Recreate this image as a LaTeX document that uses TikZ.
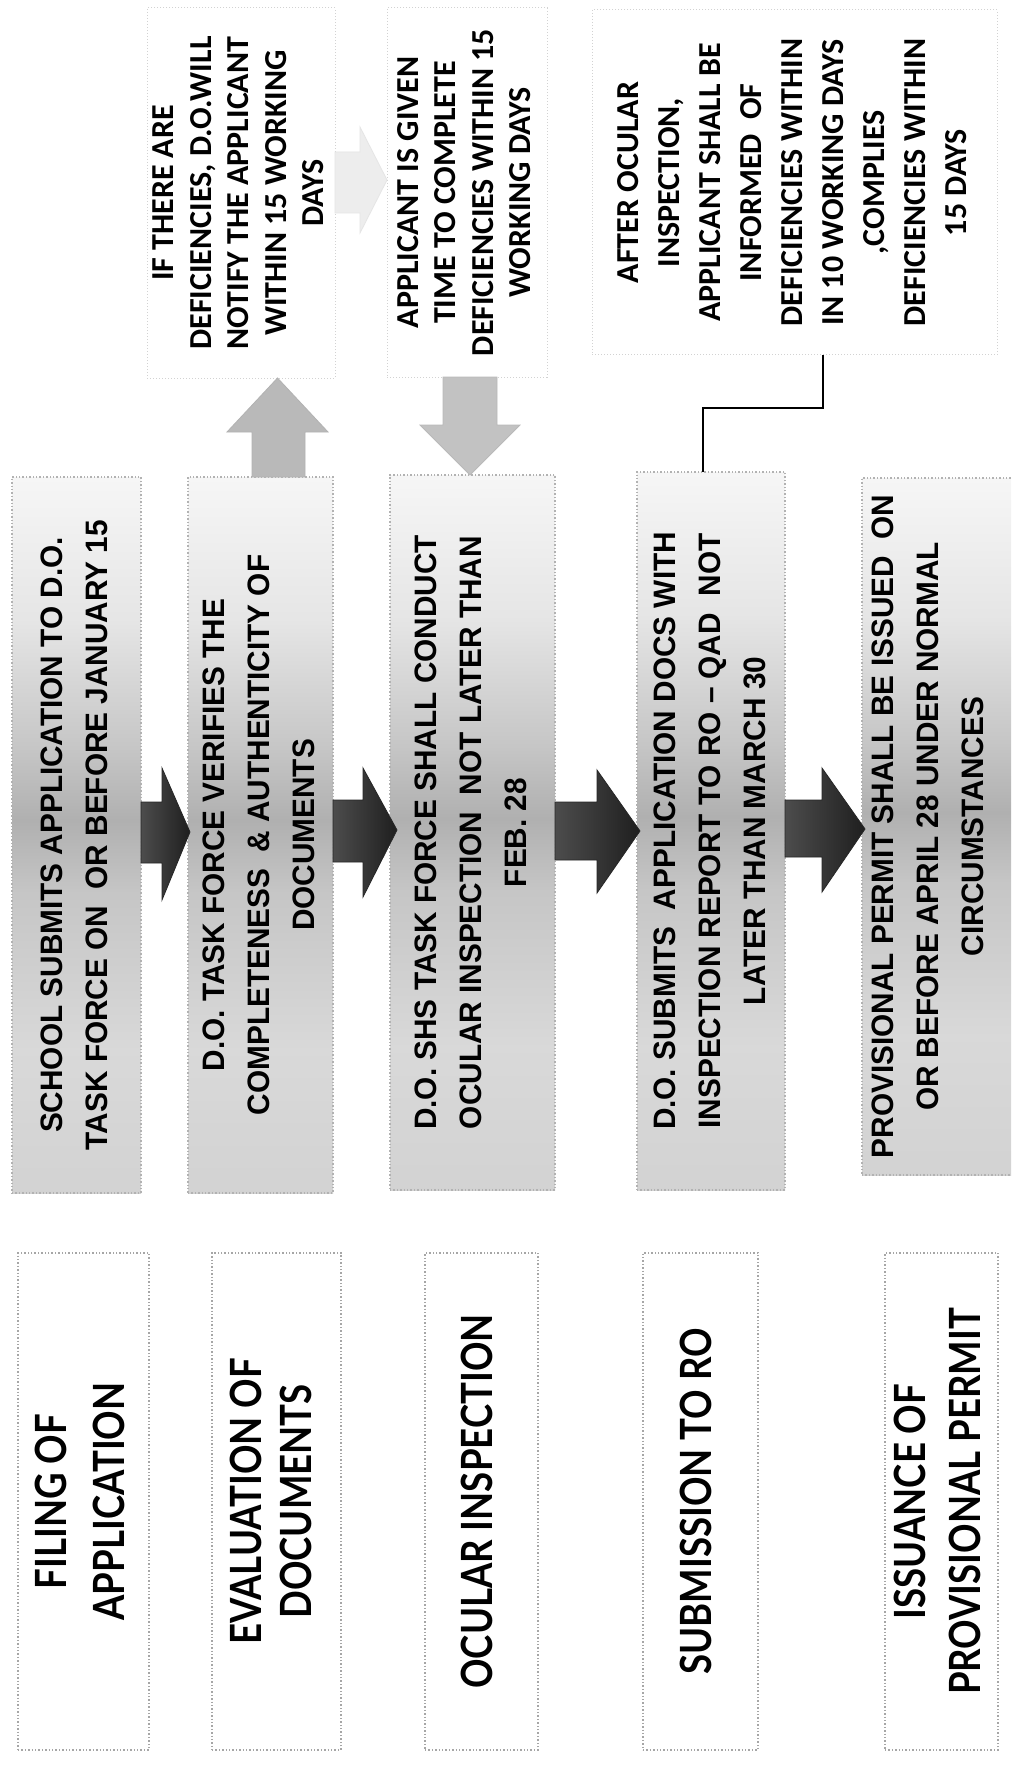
\documentclass[tikz,border=0pt]{standalone}
\usepackage{fontspec}
\usepackage{graphicx}
\setmainfont{Carlito}
\newfontfamily\midfont[FakeStretch=0.96]{Liberation Sans}
\newfontfamily\leftfont[FakeStretch=0.85]{Lato}
\usetikzlibrary{calc}
\newcommand\rtext[1]{\rotatebox{90}{\begin{tabular}{@{}c@{}}#1\end{tabular}}}
\newcommand\lfs[1]{\leftfont\bfseries\fontsize{21.5}{#1}\selectfont}
\pgfdeclareverticalshading{mshade}{100bp}{%
  color(0bp)=(gray!35); color(25bp)=(gray!35); color(35bp)=(gray!30);
  color(46bp)=(gray!45); color(51bp)=(gray!62); color(56bp)=(gray!45);
  color(65bp)=(gray!20); color(75bp)=(gray!7); color(100bp)=(gray!7)}
\tikzset{
  sz/.style 2 args={minimum width=#1*0.5pt, minimum height=#2*0.5pt, inner sep=0pt, outer sep=0pt},
  mbox/.style={draw=gray!60, densely dotted, line width=0.7pt, shading=mshade,
    font=\midfont\bfseries\fontsize{15.5}{22.5}\selectfont},
  mtext/.style={inner sep=0pt, font=\midfont\bfseries\fontsize{15.5}{22.5}\selectfont},
  lbox/.style={draw=gray!70, densely dotted, line width=0.7pt, fill=white},
  tbox/.style={draw=gray!35, densely dotted, line width=0.5pt, fill=white,
    font=\bfseries\fontsize{16}{18.75}\selectfont},
  tboxb/.style={tbox, font=\bfseries\fontsize{16}{20.5}\selectfont},
  darkarrow/.style={left color=black!70, right color=black!88, draw=black!85, line width=0.4pt},
  uparrow/.style={fill=gray!55, draw=gray!60, line width=0.4pt},
  downarrow/.style={fill=gray!48, draw=gray!55, line width=0.4pt},
  lightarrow/.style={fill=gray!14, draw=gray!20, line width=0.4pt},
  conn/.style={draw=black, line width=1pt}
}
\begin{document}
\begin{tikzpicture}[x=0.5pt,y=-0.5pt]
\useasboundingbox (0,0) rectangle (1011,1765);
\fill[white] (0,0) rectangle (1011,1765);
\clip (0,0) rectangle (1011,1765);

% ---------- left column ----------
\node[lbox, sz={131}{497}] (l1) at (83.5,1501.5) {\lfs{29}\rtext{FILING OF\\ APPLICATION}};
\node[lbox, sz={129}{497}] (l2) at (276.5,1501.5) {\lfs{25}\rtext{EVALUATION OF\\ DOCUMENTS}};
\node[lbox, sz={113}{497}] (l3) at (481.5,1501.5) {\lfs{27}\rtext{OCULAR INSPECTION}};
\node[lbox, sz={115}{497}] (l4) at (700.5,1501.5) {\lfs{27}\rtext{SUBMISSION TO RO}};
\node[lbox, sz={113}{497}] (l5) at (941.5,1501.5) {\lfs{27.5}\rtext{ISSUANCE OF\\ PROVISIONAL PERMIT}};

% ---------- middle column ----------
\node[mbox, sz={129}{716}] (m1) at (76.5,835) {\rtext{SCHOOL SUBMITS APPLICATION TO D.O.\\ TASK FORCE ON \ OR BEFORE JANUARY 15}};
\node[mbox, sz={145}{716}] (m2) at (260.5,835) {\rtext{D.O. TASK FORCE VERIFIES THE\\ COMPLETENESS \ \& AUTHENTICITY OF\\ DOCUMENTS}};
\node[mbox, sz={165}{715}] (m3) at (472.5,832.5) {\rtext{D.O. SHS TASK FORCE SHALL CONDUCT\\ OCULAR INSPECTION \ NOT LATER THAN\\ FEB. 28}};
\node[mbox, sz={148}{718}] (m4) at (711,831) {\rtext{D.O. SUBMITS \ APPLICATION DOCS WITH\\ INSPECTION REPORT TO RO – QAD \ NOT\\ LATER THAN MARCH 30}};
\node[mbox, sz={156}{697}] (m5) at (940,826.5) {};
\node[mtext] (m5t) at (929,826.5) {\rtext{PROVISIONAL PERMIT SHALL BE ISSUED \ ON\\ OR BEFORE APRIL 28 UNDER NORMAL\\ CIRCUMSTANCES}};

% ---------- top row ----------
\node[tbox, sz={188}{370}] (t1) at (241,193) {\rtext{IF THERE ARE\\ DEFICIENCIES, D.O.WILL\\ NOTIFY THE APPLICANT\\ WITHIN 15 WORKING\\ DAYS}};
\node[tbox, sz={160}{369}] (t2) at (467,192.5) {\rtext{APPLICANT IS GIVEN\\ TIME TO COMPLETE\\ DEFICIENCIES WITHIN 15\\ WORKING DAYS}};
\node[tboxb, sz={405}{345}] (t3) at (794.5,182.5) {\rtext{AFTER OCULAR\\ INSPECTION,\\ APPLICANT SHALL BE\\ INFORMED \ OF\\ DEFICIENCIES WITHIN\\ IN 10 WORKING DAYS\\ ,COMPLIES\\ DEFICIENCIES WITHIN\\ 15 DAYS}};

% ---------- block arrows ----------
% m1 -> m2
\path[darkarrow] (m1.east |- 0,802) -- (162,802) -- (162,768) -- (190,832) -- (162,900) -- (162,863) -- (m1.east |- 0,863) -- cycle;
% m2 -> m3
\path[darkarrow] (m2.east |- 0,800) -- (363,800) -- (363,768) -- (397,830) -- (363,897) -- (363,862) -- (m2.east |- 0,862) -- cycle;
% m3 -> m4
\path[darkarrow] (m3.east |- 0,802) -- (597,802) -- (597,770) -- (640,831) -- (597,893) -- (597,860) -- (m3.east |- 0,860) -- cycle;
% m4 -> m5
\path[darkarrow] (m4.east |- 0,800) -- (822,800) -- (822,768) -- (865,829) -- (822,892) -- (822,857) -- (m4.east |- 0,857) -- cycle;

% m2 -> t1 (up)
\path[uparrow] (252,0 |- m2.north) -- (252,432) -- (227,432) -- (277.5,378) -- (328,432) -- (305,432) -- (305,0 |- m2.north) -- cycle;
% t2 -> m3 (down)
\path[downarrow] (443,0 |- t2.south) -- (443,425) -- (420,425) -- (470,475) -- (520,425) -- (497,425) -- (497,0 |- t2.south) -- cycle;
% t1 -> t2 (light, right)
\path[lightarrow] (t1.east |- 0,152) -- (360,152) -- (360,127) -- (387,180) -- (360,233) -- (360,213) -- (t1.east |- 0,213) -- cycle;

% ---------- elbow connector t3 -> m4 ----------
\coordinate (c1) at (823,0);
\coordinate (c2) at (703,408);
\draw[conn] (t3.south -| c1) |- (c2) -- (c2 |- m4.north);
\end{tikzpicture}
\end{document}
